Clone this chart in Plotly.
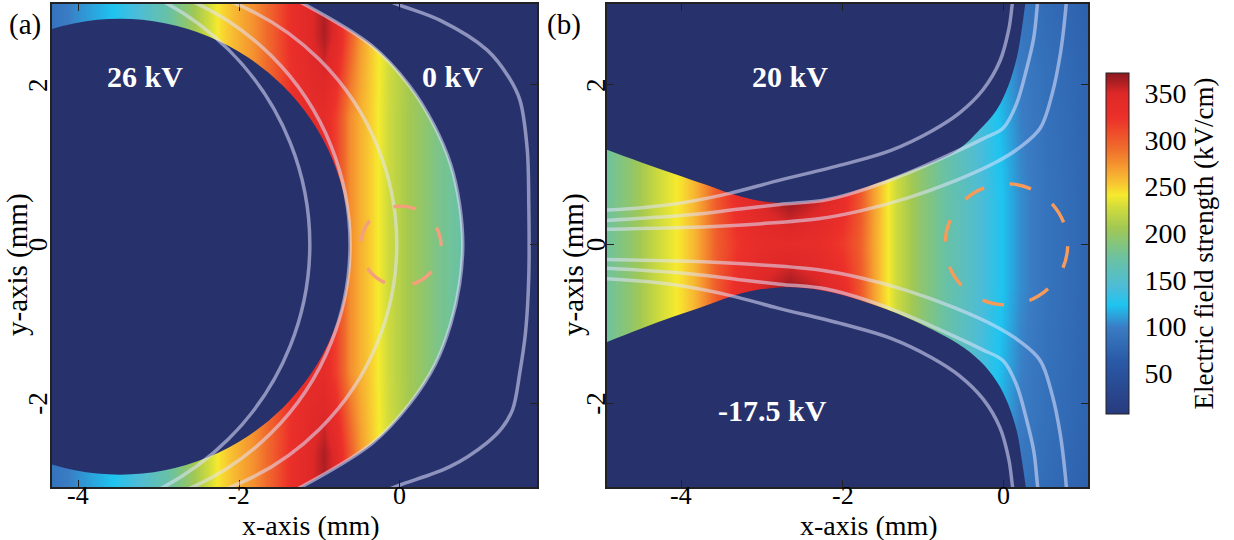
import plotly.graph_objects as go

FONT = "Liberation Serif"
NAVY = "#27316c"
FIELD_LINE = "rgba(225,228,255,0.55)"

# ---------------- colour scale ----------------
cbar_values = [6, 64, 99, 123, 142, 174, 206, 228, 241, 254, 271, 292, 324, 350, 364, 372]
cbar_colors = ["#283a7e", "#2a5aa8", "#3a7cc4", "#1ec4f0", "#4cbcd8", "#6cc2a0",
               "#a2c852", "#d2dc3c", "#f6ea2e", "#f8c432", "#f59a30", "#f06a2c",
               "#ec302a", "#de2828", "#a61d22", "#8c1a20"]
C_MIN, C_MAX = 6, 372
cbar_ticks = [50, 100, 150, 200, 250, 300, 350]

# ---------------- axis ticks ----------------
x_ticks = [-4, -2, 0]
x_tick_text = ["-4", "-2", "0"]
y_ticks = [-2, 0, 2]
y_tick_text = ["-2", "0", "2"]

# ---------------- panel (a): field-strength table (kV/cm) ----------------
a_x = [-4.6, -4.32, -4.0, -3.57, -3.23, -2.9, -2.65, -2.4, -2.24, -2.07, -1.83, -1.58, -1.33,
       -1.1, -0.95, -0.8, -0.62, -0.5, -0.38, -0.29, -0.12, 0.09, 0.3, 0.5, 0.78, 2.0]
a_y = [-3.3, -2.6, -1.6, 0.0, 1.6, 2.6, 3.3]
a_field_edge = [85, 90, 105, 123, 145, 170, 195, 225, 245, 258, 275, 300, 330,
                348, 362, 345, 300, 272, 256, 244, 226, 210, 195, 183, 170, 150]
a_field_mid = [85, 90, 105, 123, 145, 170, 195, 225, 245, 258, 275, 300, 325,
               336, 336, 315, 276, 262, 252, 242, 224, 208, 195, 182, 170, 150]

# 26 kV electrode (circle): centre x, centre y, radius (mm)
a_electrode = dict(cx=-3.48, cy=-0.03, r=2.86)
# field lines drawn as circular arcs: centre x (on y=0) and radius (mm)
a_arc_cx = [-4.58, -3.97, -3.32]
a_arc_r = [3.46, 3.35, 3.28]
# outer boundary of the gap (0 kV electrode face)
a_outer_x = [-1.35, -0.36, 0.11, 0.42, 0.63, 0.74, 0.78, 0.74, 0.63, 0.44, 0.12, -0.35, -1.33]
a_outer_y = [3.1, 2.5, 2.0, 1.5, 1.0, 0.5, 0.0, -0.5, -1.0, -1.5, -2.0, -2.5, -3.1]
# far right contour line
a_right_x = [-0.26, 0.0, 0.5, 1.08, 1.35, 1.49, 1.58, 1.60, 1.60, 1.56, 1.49, 1.40, 1.27, 1.08, 0.62, 0.0, -0.2]
a_right_y = [3.1, 3.0, 2.81, 2.44, 2.1, 1.81, 1.2, 0.5, -0.4, -1.1, -1.6, -2.07, -2.3, -2.49, -2.79, -3.02, -3.1]
a_probe = dict(cx=0.01, cy=-0.02, r=0.5)

# ---------------- panel (b): field-strength table (kV/cm) ----------------
b_x = [-5.2, -4.93, -4.63, -4.3, -4.0, -3.85, -3.7, -3.55, -3.3, -3.0, -2.65, -2.3, -2.0,
       -1.8, -1.62, -1.5, -1.33, -1.04, -0.71, -0.38, -0.05, 0.2, 0.53, 1.04, 1.3]
b_y = [-3.3, -2.2, -0.55, 0.0, 0.55, 2.2, 3.3]
b_field_center = [172, 175, 195, 225, 245, 258, 278, 300, 322, 335, 338, 332, 318,
                  300, 268, 250, 225, 195, 170, 150, 125, 105, 90, 76, 74]
b_field_gapedge = [172, 175, 195, 225, 245, 258, 278, 302, 332, 352, 368, 355, 332,
                   305, 270, 250, 225, 195, 170, 150, 125, 105, 90, 76, 74]
b_field_outer = [172, 175, 195, 225, 245, 258, 278, 300, 325, 340, 342, 335, 320,
                 300, 268, 250, 225, 195, 168, 145, 118, 98, 86, 74, 72]
b_field_far = [172, 175, 195, 225, 245, 258, 278, 300, 325, 340, 342, 335, 320,
               300, 268, 250, 225, 190, 165, 138, 108, 90, 80, 70, 68]

# electrode boundaries (mm)
b_upper_x = [-5.2, -4.93, -4.5, -4.1, -3.7, -3.4, -3.1, -2.78, -2.45, -2.1, -1.7, -1.2,
             -0.58, -0.3, -0.09, 0.05, 0.16, 0.22, 0.27, 0.3]
b_upper_y = [1.3, 1.19, 1.03, 0.89, 0.75, 0.64, 0.56, 0.52, 0.53, 0.59, 0.72, 0.90,
             1.18, 1.44, 1.69, 1.98, 2.35, 2.7, 3.07, 3.3]
b_lower_x = [-5.2, -4.93, -4.5, -4.1, -3.7, -3.4, -3.1, -2.78, -2.45, -2.1, -1.7, -1.2,
             -0.58, -0.3, -0.09, 0.05, 0.16, 0.22, 0.27, 0.3]
b_lower_y = [-1.33, -1.23, -1.06, -0.91, -0.77, -0.66, -0.58, -0.54, -0.55, -0.61, -0.73, -0.92,
             -1.24, -1.46, -1.72, -2.0, -2.35, -2.7, -3.05, -3.3]

# field lines (mm)
b_line_a_x = [-5.2, -4.93, -4.4, -4.0, -3.4, -2.8, -2.0, -1.4, -0.9, -0.55, -0.26, -0.05, 0.06, 0.11, 0.15]
b_line_a_y = [0.42, 0.43, 0.47, 0.52, 0.64, 0.80, 1.00, 1.18, 1.42, 1.65, 1.94, 2.3, 2.7, 3.07, 3.3]
b_line_b_x = [-5.2, -4.93, -3.9, -3.3, -2.78, -2.2, -1.7, -1.2, -0.58, -0.25, -0.01, 0.15, 0.28, 0.37, 0.42, 0.45]
b_line_b_y = [0.29, 0.30, 0.37, 0.44, 0.50, 0.56, 0.70, 0.89, 1.17, 1.33, 1.46, 1.75, 2.2, 2.6, 3.07, 3.3]
b_line_c_x = [-5.2, -4.93, -4.0, -3.0, -2.3, -1.78, -1.2, -0.6, -0.1, 0.2, 0.45, 0.6, 0.7, 0.76, 0.79]
b_line_c_y = [0.18, 0.19, 0.21, 0.26, 0.32, 0.42, 0.58, 0.80, 1.03, 1.22, 1.46, 1.9, 2.4, 2.9, 3.3]
b_probe = dict(cx=0.03, cy=0.0, r=0.76)

# ---------------- labels ----------------
a_labels = [("26 kV", -3.17, 2.11), ("0 kV", 0.65, 2.11)]
b_labels = [("20 kV", -2.65, 2.11), ("-17.5 kV", -2.87, -2.08)]

W, H = 1234, 540
colorscale = [[(v - C_MIN) / (C_MAX - C_MIN), c] for v, c in zip(cbar_values, cbar_colors)]

fig = go.Figure()

# ---- panel (a)
fig.add_trace(go.Heatmap(x=a_x, y=a_y,
                         z=[a_field_edge, a_field_edge, a_field_mid, a_field_mid, a_field_mid,
                            a_field_edge, a_field_edge],
                         zsmooth="best", coloraxis="coloraxis", xaxis="x", yaxis="y",
                         hoverinfo="skip"))
fig.add_trace(go.Scatter(x=[2.3, 2.3], y=[3.1, -3.1], mode="lines", line=dict(width=0),
                         xaxis="x", yaxis="y", showlegend=False, hoverinfo="skip"))
fig.add_trace(go.Scatter(x=a_outer_x, y=a_outer_y, mode="lines", fill="tonextx",
                         fillcolor=NAVY, line=dict(width=0, shape="spline"),
                         xaxis="x", yaxis="y", showlegend=False, hoverinfo="skip"))
fig.add_trace(go.Scatter(x=a_outer_x, y=a_outer_y, mode="lines",
                         line=dict(color=FIELD_LINE, width=3.5, shape="spline"),
                         xaxis="x", yaxis="y", showlegend=False, hoverinfo="skip"))
fig.add_trace(go.Scatter(x=a_right_x, y=a_right_y, mode="lines",
                         line=dict(color=FIELD_LINE, width=3.5, shape="spline"),
                         xaxis="x", yaxis="y", showlegend=False, hoverinfo="skip"))

# ---- panel (b)
fig.add_trace(go.Heatmap(x=b_x, y=b_y,
                         z=[b_field_far, b_field_outer, b_field_gapedge, b_field_center,
                            b_field_gapedge, b_field_outer, b_field_far],
                         zsmooth="best", coloraxis="coloraxis", xaxis="x2", yaxis="y2",
                         hoverinfo="skip"))
fig.add_trace(go.Scatter(x=[-5.4, 0.7], y=[3.45, 3.45], mode="lines", line=dict(width=0),
                         xaxis="x2", yaxis="y2", showlegend=False, hoverinfo="skip"))
fig.add_trace(go.Scatter(x=b_upper_x, y=b_upper_y, mode="lines", fill="tonexty",
                         fillcolor=NAVY, line=dict(width=0, shape="spline"),
                         xaxis="x2", yaxis="y2", showlegend=False, hoverinfo="skip"))
fig.add_trace(go.Scatter(x=[-5.4, 0.7], y=[-3.45, -3.45], mode="lines", line=dict(width=0),
                         xaxis="x2", yaxis="y2", showlegend=False, hoverinfo="skip"))
fig.add_trace(go.Scatter(x=b_lower_x, y=b_lower_y, mode="lines", fill="tonexty",
                         fillcolor=NAVY, line=dict(width=0, shape="spline"),
                         xaxis="x2", yaxis="y2", showlegend=False, hoverinfo="skip"))
for lx, ly in [(b_line_a_x, b_line_a_y), (b_line_b_x, b_line_b_y), (b_line_c_x, b_line_c_y)]:
    for sgn in (1, -1):
        fig.add_trace(go.Scatter(x=lx, y=[sgn * v for v in ly], mode="lines",
                                 line=dict(color=FIELD_LINE, width=3.5, shape="spline"),
                                 xaxis="x2", yaxis="y2", showlegend=False, hoverinfo="skip"))

# ---- shapes
shapes = []
e = a_electrode
shapes.append(dict(type="circle", xref="x", yref="y", x0=e["cx"] - e["r"], x1=e["cx"] + e["r"],
                   y0=e["cy"] - e["r"], y1=e["cy"] + e["r"], fillcolor=NAVY,
                   line=dict(width=0), layer="above"))
for cx, r in zip(a_arc_cx, a_arc_r):
    shapes.append(dict(type="circle", xref="x", yref="y", x0=cx - r, x1=cx + r, y0=-r, y1=r,
                       line=dict(color=FIELD_LINE, width=3.5), layer="above"))
p = a_probe
shapes.append(dict(type="circle", xref="x", yref="y", x0=p["cx"] - p["r"], x1=p["cx"] + p["r"],
                   y0=p["cy"] - p["r"], y1=p["cy"] + p["r"],
                   line=dict(color="#f4a07c", width=3.4, dash="0px,28px,23px,0px"),
                   layer="above"))
p = b_probe
shapes.append(dict(type="circle", xref="x2", yref="y2", x0=p["cx"] - p["r"], x1=p["cx"] + p["r"],
                   y0=p["cy"] - p["r"], y1=p["cy"] + p["r"],
                   line=dict(color="#f89a5a", width=3.4, dash="0px,2px,22px,24px"),
                   layer="above"))

# ---- annotations
ann = []
for txt, x, y in a_labels:
    ann.append(dict(text="<b>%s</b>" % txt, x=x, y=y, xref="x", yref="y", showarrow=False,
                    font=dict(family=FONT, size=30, color="white")))
for txt, x, y in b_labels:
    ann.append(dict(text="<b>%s</b>" % txt, x=x, y=y, xref="x2", yref="y2", showarrow=False,
                    font=dict(family=FONT, size=30, color="white")))

xtick_font = dict(family=FONT, size=26, color="black")
ytick_font = dict(family=FONT, size=27, color="black")
# tick labels placed next to the axes (close, as in the original figure)
for xr, yr, ylab_px in [("x", "y", 38), ("x2", "y2", 596)]:
    for v, t in zip(x_ticks, x_tick_text):
        ann.append(dict(text=t, x=v, y=1 - 495 / H, xref=xr, yref="paper", showarrow=False,
                        font=xtick_font, xanchor="center", yanchor="middle"))
    for v, t in zip(y_ticks, y_tick_text):
        ann.append(dict(text=t, x=ylab_px / W, y=v, xref="paper", yref=yr, showarrow=False,
                        textangle=-90, font=ytick_font, xanchor="center", yanchor="middle"))

for txt, px, py, ang, fs in [("x-axis (mm)", 311, 525, 0, 28), ("x-axis (mm)", 869, 525, 0, 28),
                             ("y-axis (mm)", 17, 265, -90, 29), ("y-axis (mm)", 573, 265, -90, 29),
                             ("(a)", 25, 25, 0, 29), ("(b)", 564, 25, 0, 29)]:
    ann.append(dict(text=txt, x=px / W, y=1 - py / H, xref="paper", yref="paper",
                    showarrow=False, textangle=ang,
                    font=dict(family=FONT, size=fs, color="black"),
                    xanchor="center", yanchor="middle"))

axis_common = dict(showline=True, linecolor="#222", linewidth=1.5, mirror="ticks",
                   ticks="inside", ticklen=7, tickwidth=1.2, tickcolor="#222",
                   showgrid=False, zeroline=False, showticklabels=False)
y_dom = [1 - 487 / H, 1 - 4 / H]

fig.update_layout(
    width=W, height=H, margin=dict(l=0, r=0, t=0, b=0),
    paper_bgcolor="white", plot_bgcolor=NAVY, showlegend=False,
    xaxis=dict(domain=[52 / W, 537 / W], range=[-4.323, 1.702], tickvals=x_ticks,
               anchor="y", **axis_common),
    yaxis=dict(domain=y_dom, range=[-3.045, 3.016], tickvals=y_ticks, anchor="x", **axis_common),
    xaxis2=dict(domain=[607 / W, 1088 / W], range=[-4.919, 1.041], tickvals=x_ticks,
                anchor="y2", **axis_common),
    yaxis2=dict(domain=y_dom, range=[-3.045, 3.016], tickvals=y_ticks, anchor="x2", **axis_common),
    coloraxis=dict(colorscale=colorscale, cmin=C_MIN, cmax=C_MAX,
                   colorbar=dict(x=1106 / W, xanchor="left", y=1 - 243.5 / H, yanchor="middle",
                                 len=341 / H, lenmode="fraction", thickness=23,
                                 thicknessmode="pixels", xpad=0, ypad=0,
                                 outlinewidth=1, outlinecolor="#222",
                                 tickvals=cbar_ticks, ticks="outside", ticklen=10,
                                 tickcolor="rgba(0,0,0,0)",
                                 tickfont=dict(family=FONT, size=28, color="black"),
                                 title=dict(text="Electric field strength (kV/cm)", side="right",
                                            font=dict(family=FONT, size=27, color="black")))),
    shapes=shapes, annotations=ann,
)

fig.write_html("out.html")
